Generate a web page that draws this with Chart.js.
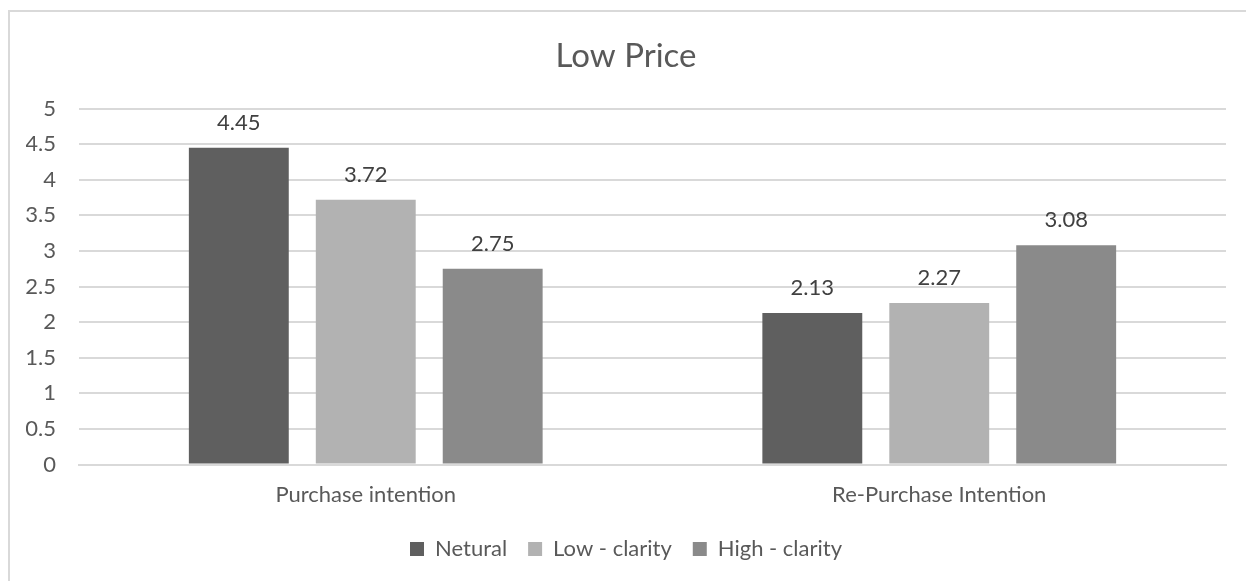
<!DOCTYPE html>
<html>
<head>
<meta charset="utf-8">
<script src="https://cdn.jsdelivr.net/npm/chart.js@4/dist/chart.umd.min.js"></script>
<style>
  html, body { margin: 0; padding: 0; background: #fff; overflow: hidden; }
  #frame { position: absolute; left: 8px; top: 10px; width: 1300px; height: 700px;
           border-top: 2px solid #d9d9d9; border-left: 2px solid #d9d9d9; }
  #wrap { position: absolute; left: 0; top: 0; width: 1246px; height: 581px; }
</style>
</head>
<body>
<div id="frame"></div>
<div id="wrap"><canvas id="grafikon"></canvas></div>
<script>
var kategorije = ["Purchase intention", "Re-Purchase Intention"];
var serije = ["Netural", "Low - clarity", "High - clarity"];
var netural = [4.45, 2.13];
var niska = [3.72, 2.27];
var visoka = [2.75, 3.08];
var boje = ["#5f5f5f", "#b2b2b2", "#8a8a8a"];
var yOznake = [0, 0.5, 1, 1.5, 2, 2.5, 3, 3.5, 4, 4.5, 5];

var font = "Lato, 'Open Sans', sans-serif";

// natpisi iznad stupaca
var vrijednostiPlugin = {
    id: "vrijednosti",
    afterDatasetsDraw: function(chart) {
        var ctx = chart.ctx;
        ctx.save();
        ctx.font = "22px " + font;
        ctx.fillStyle = "#404040";
        ctx.textAlign = "center";
        ctx.textBaseline = "middle";
        chart.data.datasets.forEach(function(ds, i) {
            chart.getDatasetMeta(i).data.forEach(function(bar, j) {
                ctx.fillText(ds.data[j].toFixed(2), bar.x, bar.y - 25);
            });
        });
        ctx.restore();
    }
};

var ctx = document.getElementById("grafikon");

var config = {
    type: "bar",
    data: {
        labels: kategorije,
        datasets: [
            { label: serije[0], data: netural, backgroundColor: boje[0] },
            { label: serije[1], data: niska, backgroundColor: boje[1] },
            { label: serije[2], data: visoka, backgroundColor: boje[2] }
        ]
    },
    options: {
        responsive: true,
        maintainAspectRatio: false,
        animation: false,
        layout: { padding: { left: 26, right: 20, top: 0, bottom: 11 } },
        datasets: { bar: { categoryPercentage: 0.664, barPercentage: 0.787 } },
        plugins: {
            title: {
                display: true,
                text: "Low Price",
                color: "#595959",
                font: { family: font, size: 33, weight: "normal" },
                padding: { top: 37, bottom: 32 }
            },
            legend: {
                display: true,
                position: "bottom",
                labels: {
                    color: "#595959",
                    font: { family: font, size: 22 },
                    boxWidth: 14,
                    boxHeight: 14,
                    padding: 21
                }
            },
            tooltip: { enabled: false }
        },
        scales: {
            x: {
                grid: { display: false },
                border: { display: true, color: "#d9d9d9", width: 2 },
                ticks: { color: "#595959", font: { family: font, size: 22 }, padding: 9 }
            },
            y: {
                min: 0,
                max: 5,
                afterFit: function(s) { s.width = 53; },
                afterBuildTicks: function(s) {
                    s.ticks = yOznake.map(function(v) { return { value: v }; });
                },
                grid: { color: "#d9d9d9", lineWidth: 2, drawTicks: false },
                border: { display: false },
                ticks: {
                    color: "#595959",
                    font: { family: font, size: 22 },
                    padding: 23,
                    callback: function(v) { return String(v); }
                }
            }
        }
    },
    plugins: [vrijednostiPlugin]
};

var chart = new Chart(ctx, config);
</script>
</body>
</html>
